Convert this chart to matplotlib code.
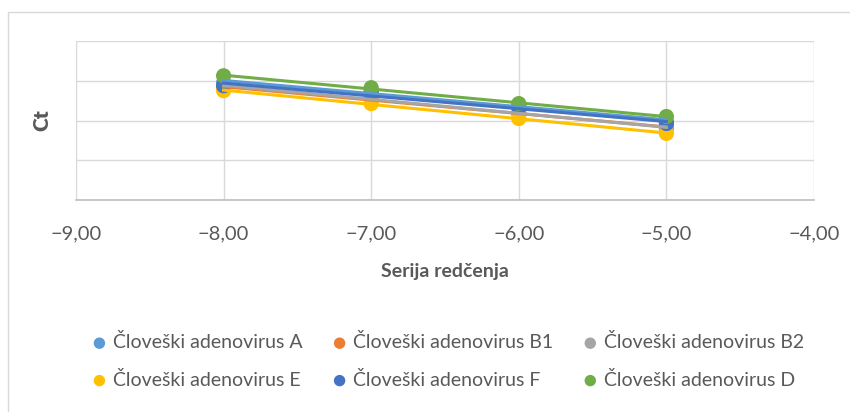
import matplotlib
matplotlib.use('Agg')
import matplotlib.pyplot as plt
import numpy as np
from matplotlib.patches import Rectangle
from matplotlib.ticker import FuncFormatter, MultipleLocator

plt.rcParams['font.family'] = ['Lato', 'DejaVu Sans']

# serija redčenja (log razredčitve)
dilution = [-8, -7, -6, -5]

# Ct vrednosti po serijah
ct_A = [29.5, 27.5, 23.75, 19.75]
ct_B1 = [28.25, 25.5, 21.75, 18.25]
ct_B2 = [28.5, 25.75, 22.0, 18.0]
ct_E = [27.5, 24.25, 20.5, 16.75]
ct_F = [28.75, 27.0, 23.25, 19.25]
ct_D = [31.25, 28.25, 24.25, 21.0]

names = ['Človeški adenovirus A', 'Človeški adenovirus B1', 'Človeški adenovirus B2',
         'Človeški adenovirus E', 'Človeški adenovirus F', 'Človeški adenovirus D']
series = [ct_A, ct_B1, ct_B2, ct_E, ct_F, ct_D]
colors = ['#5B9BD5', '#ED7D31', '#A5A5A5', '#FFC000', '#4472C4', '#70AD47']

fig = plt.figure(figsize=(8.5, 4.12), dpi=100)

# okvir grafa
fig.patches.append(Rectangle((8 / 850, -0.1), 1.0, (412 - 12) / 412 + 0.1,
                             transform=fig.transFigure, fill=False,
                             edgecolor='#D9D9D9', linewidth=1.0))

ax = fig.add_axes([76 / 850, 1 - 200 / 412, (814 - 76) / 850, (200 - 41) / 412])

x = np.array(dilution, dtype=float)
handles = []
for name, ct, col in zip(names, series, colors):
    h = ax.scatter(x, ct, s=120, color=col, zorder=3, label=name, edgecolors='none')
    handles.append(h)
    # linearna trendna črta
    k, n = np.polyfit(x, ct, 1)
    ax.plot(x, k * x + n, color=col, linewidth=2.2, zorder=4)

ax.set_xlim(-9, -4)
ax.set_ylim(0, 40)
ax.xaxis.set_major_locator(MultipleLocator(1))
ax.yaxis.set_major_locator(MultipleLocator(10))
ax.xaxis.set_major_formatter(FuncFormatter(
    lambda v, p: f'{v:.2f}'.replace('.', ',').replace('-', '\u2212')))
ax.set_yticklabels([])
ax.grid(True, color='#D9D9D9', linewidth=1.0)
ax.set_axisbelow(True)
for s in ['top', 'right', 'left']:
    ax.spines[s].set_visible(False)
ax.spines['bottom'].set_color('#BFBFBF')
ax.spines['bottom'].set_linewidth(1.2)
ax.tick_params(axis='both', length=0)
ax.tick_params(axis='x', labelsize=14.5, labelcolor='#595959', pad=18)

ax.set_xlabel('Serija redčenja', fontsize=14, fontweight='bold', color='#595959', labelpad=15)
ax.set_ylabel('Ct', fontsize=15, fontweight='heavy', color='#595959', labelpad=14)

# legenda po vrsticah (matplotlib polni po stolpcih)
order = [0, 3, 1, 4, 2, 5]
leg = fig.legend([handles[i] for i in order], [names[i] for i in order],
                 loc='center', bbox_to_anchor=(0.52, 1 - 361 / 412), ncol=3, frameon=False,
                 fontsize=14, handletextpad=-0.3, columnspacing=0.9, labelspacing=1.0,
                 markerscale=0.75, labelcolor='#595959')

fig.savefig('out.png', dpi=100)
